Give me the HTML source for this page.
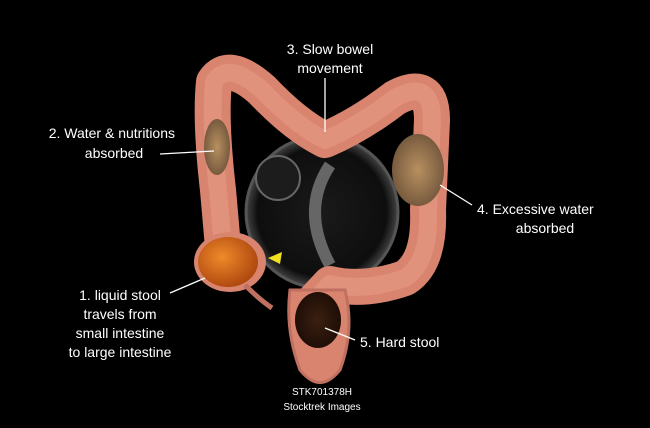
<!DOCTYPE html>
<html><head><meta charset="utf-8"><style>
html,body{margin:0;padding:0;background:#000;}
svg{display:block}
text{font-family:"Liberation Sans",sans-serif;fill:#fff;}
</style></head><body>
<svg width="650" height="428" viewBox="0 0 650 428" xmlns="http://www.w3.org/2000/svg">
<defs>
<radialGradient id="ball" cx="50%" cy="50%" r="50%">
<stop offset="0" stop-color="#1a1a1a"/><stop offset="0.85" stop-color="#0e0e0e"/><stop offset="1" stop-color="#444"/>
</radialGradient>
<radialGradient id="or" cx="40%" cy="40%" r="60%"><stop offset="0" stop-color="#f08a2a"/><stop offset="1" stop-color="#b04a10"/></radialGradient>
<radialGradient id="br" cx="50%" cy="50%" r="60%"><stop offset="0" stop-color="#b89060"/><stop offset="1" stop-color="#6a5038"/></radialGradient>
<radialGradient id="hs" cx="50%" cy="50%" r="60%"><stop offset="0" stop-color="#3a2010"/><stop offset="1" stop-color="#1a0a05"/></radialGradient>
</defs>
<rect width="650" height="428" fill="#000"/>
<circle cx="322" cy="212" r="76" fill="url(#ball)" stroke="#555" stroke-width="3"/>
<circle cx="278" cy="178" r="22" fill="#1c1c1c" stroke="#666" stroke-width="2"/>
<path d="M330 165 Q300 210 330 265" stroke="#666" stroke-width="12" fill="none"/>
<g fill="none" stroke-linecap="round" stroke-linejoin="round">
<path d="M225 270 L218 190 Q210 120 214 82 Q228 60 262 90 Q295 125 325 140 Q360 125 395 98 Q432 78 432 120 L428 210 Q430 262 405 278 Q365 292 330 284 L315 300" stroke="#d9846e" stroke-width="36"/>
<path d="M225 270 L218 190 Q210 120 214 82 Q228 60 262 90 Q295 125 325 140 Q360 125 395 98 Q432 78 432 120 L428 210 Q430 262 405 278 Q365 292 330 284 L315 300" stroke="#eaa08a" stroke-width="18" opacity="0.5"/>
</g>
<path d="M290 290 Q285 330 300 370 Q320 395 340 370 Q355 330 345 290 Z" fill="#d9846e" stroke="#c07060" stroke-width="3"/>
<ellipse cx="318" cy="320" rx="23" ry="28" fill="url(#hs)"/>
<ellipse cx="230" cy="262" rx="36" ry="30" fill="#d9846e"/>
<ellipse cx="228" cy="262" rx="30" ry="25" fill="url(#or)"/>
<path d="M245 285 Q260 300 272 308" stroke="#c07060" stroke-width="5" fill="none"/>
<ellipse cx="217" cy="147" rx="13" ry="28" fill="url(#br)"/>
<ellipse cx="418" cy="170" rx="26" ry="36" fill="url(#br)"/>
<polygon points="268,258 282,252 280,264" fill="#f0e020"/>
<g stroke="#fff" stroke-width="1.3">
<line x1="325" y1="78" x2="325" y2="132"/>
<line x1="160" y1="154" x2="214" y2="151"/>
<line x1="440" y1="185" x2="472" y2="205"/>
<line x1="170" y1="293" x2="205" y2="278"/>
<line x1="325" y1="328" x2="355" y2="340"/>
</g>
<g font-size="14">
<text x="330" y="54" text-anchor="middle">3. Slow bowel</text>
<text x="330" y="73" text-anchor="middle">movement</text>
<text x="175" y="138" text-anchor="end">2. Water &amp; nutritions</text>
<text x="114" y="158" text-anchor="middle">absorbed</text>
<text x="477" y="214">4. Excessive water</text>
<text x="545" y="233" text-anchor="middle">absorbed</text>
<text x="120" y="300" text-anchor="middle">1. liquid stool</text>
<text x="120" y="319" text-anchor="middle">travels from</text>
<text x="120" y="338" text-anchor="middle">small intestine</text>
<text x="120" y="357" text-anchor="middle">to large intestine</text>
<text x="360" y="347">5. Hard stool</text>
</g>
<g font-size="10">
<text x="322" y="395" text-anchor="middle">STK701378H</text>
<text x="322" y="410" text-anchor="middle">Stocktrek Images</text>
</g>
</svg>
</body></html>
